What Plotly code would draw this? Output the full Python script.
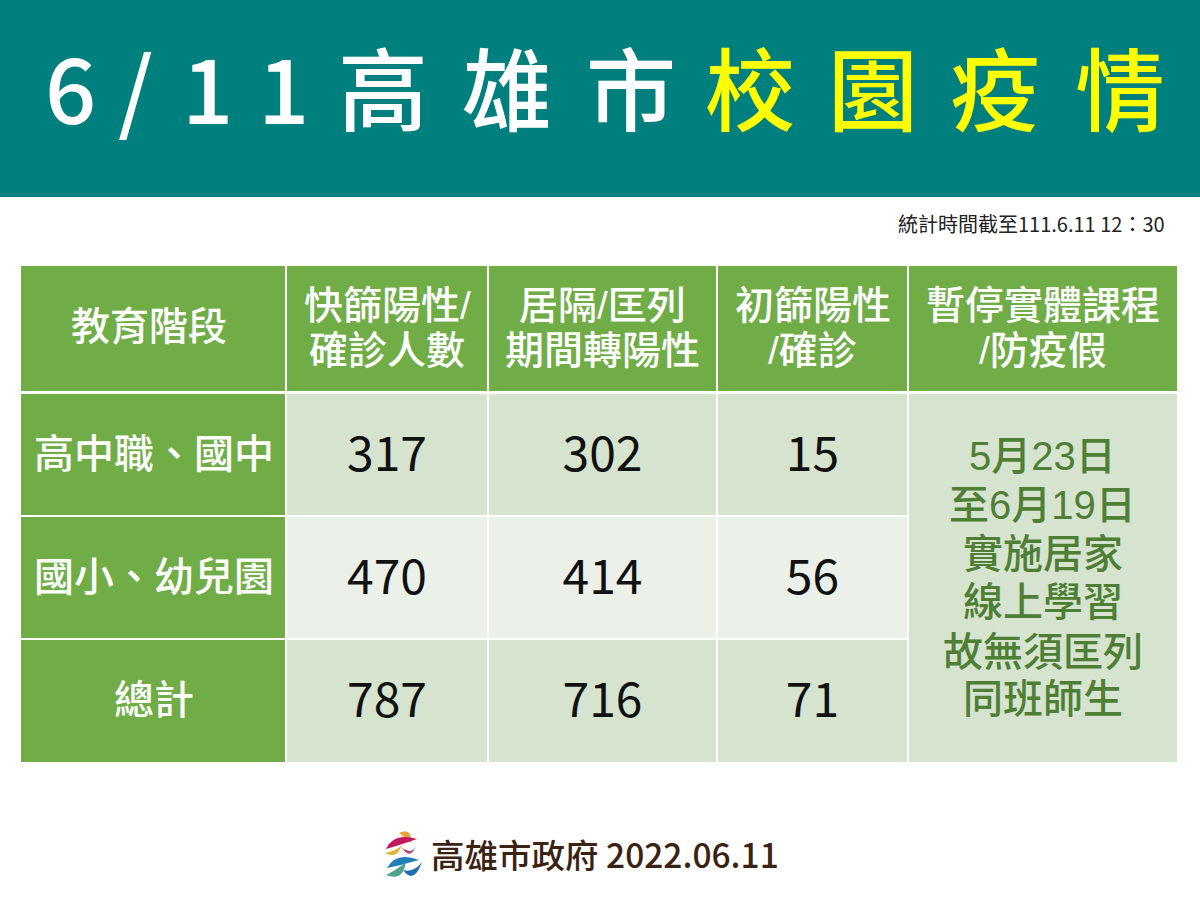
import plotly.graph_objects as go

# text and values
TITLE_WHITE = ["6", "/", "1", "1", "高", "雄", "市"]
TITLE_YELLOW = ["校", "園", "疫", "情"]
STAMP = "統計時間截至111.6.11 12：30"
HEADERS = [["教育階段"], ["快篩陽性/", "確診人數"], ["居隔/匡列", "期間轉陽性"], ["初篩陽性", "/確診"], ["暫停實體課程", "/防疫假"]]
ROWS = ["高中職、國中", "國小、幼兒園", "總計"]
SCREENED = [317, 470, 787]
ISOLATED = [302, 414, 716]
FIRST_POS = [15, 56, 71]
NOTE = ["5月23日", "至6月19日", "實施居家", "線上學習", "故無須匡列", "同班師生"]
FOOTER = "高雄市政府 2022.06.11"

# page layout, in px
TITLE_X = [70, 135, 207, 283, 383, 507, 631, 750, 873, 995, 1120]
COL_EDGES = [21, 286, 488, 717, 908, 1177]
ROW_EDGES = [394, 516, 639, 762]
HEAD_TOP, HEAD_BOT = 266, 391
HEAD_Y = [305, 350]
NOTE_Y = [456, 505, 554, 602, 652, 699]

TEAL = "#007F7F"
GREEN = "#70AD47"
LIGHT = "#D5E3CF"
PALE = "#EBF1E9"
NOTE_GREEN = "#4F7F35"
CJK = "Noto Sans CJK TC"
# tighter line box, for the stacked lines; CJK glyphs still come from Noto
TIGHT = "Liberation Sans, Noto Sans CJK TC"


def rect(x0, x1, y0, y1, color):
    return dict(type="rect", xref="x", yref="y", x0=x0, x1=x1, y0=y0, y1=y1,
                fillcolor=color, line=dict(width=0), layer="below")


def label(x, y, text, size, color, weight=400, anchor="center", family=CJK):
    return dict(x=x, y=y, xref="x", yref="y", text=text, showarrow=False, xanchor=anchor, yanchor="middle",
                align="center", font=dict(family=family, size=size, color=color, weight=weight))


def swoosh(a, c1, b, c2, color):
    path = f"M {a[0]} {a[1]} Q {c1[0]} {c1[1]} {b[0]} {b[1]} Q {c2[0]} {c2[1]} {a[0]} {a[1]} Z"
    return dict(type="path", xref="x", yref="y", path=path, fillcolor=color, line=dict(width=0))


shapes = [rect(0, 1200, 0, 197, TEAL)]
# header row
for i in range(5):
    shapes.append(rect(COL_EDGES[i] + (1 if i else 0), COL_EDGES[i + 1] - (1 if i < 4 else 0), HEAD_TOP, HEAD_BOT, GREEN))
# body
for r in range(3):
    y0 = ROW_EDGES[r] + (1 if r else 0)
    y1 = ROW_EDGES[r + 1] - (1 if r < 2 else 0)
    shapes.append(rect(COL_EDGES[0], COL_EDGES[1] - 1, y0, y1, GREEN))
    for c in range(1, 4):
        shapes.append(rect(COL_EDGES[c] + 1, COL_EDGES[c + 1] - 1, y0, y1, PALE if r == 1 else LIGHT))
shapes.append(rect(COL_EDGES[4] + 1, COL_EDGES[5], ROW_EDGES[0], ROW_EDGES[3], LIGHT))

# city logo
shapes += [
    swoosh((399, 833), (412, 827), (411, 843), (405, 837), "#E8A33D"),
    swoosh((386, 849), (394, 832), (417, 839), (400, 845), "#C2185B"),
    swoosh((385, 853), (397, 860), (402, 845), (396, 851), "#E3B23C"),
    swoosh((402, 848), (413, 855), (416, 845), (411, 861), "#B5476B"),
    swoosh((387, 868), (396, 851), (419, 860), (402, 865), "#1F7FB8"),
    swoosh((386, 875), (403, 882), (406, 862), (398, 869), "#4FA58C"),
    swoosh((403, 870), (414, 885), (422, 862), (414, 873), "#1F6FB0"),
]

annotations = []
for ch, x in zip(TITLE_WHITE + TITLE_YELLOW, TITLE_X):
    col = "#FFFFFF" if ch in TITLE_WHITE else "#FFFF00"
    annotations.append(label(x, 85, ch, 90, col, 500))
annotations.append(label(1167, 223, STAMP, 20, "#222222", anchor="right"))
for c, lines in enumerate(HEADERS):
    cx = (COL_EDGES[c] + COL_EDGES[c + 1]) / 2
    if len(lines) == 1:
        annotations.append(label(cx - 5, 323, lines[0], 39, "#FFFFFF", 500))
    else:
        for line, y in zip(lines, HEAD_Y):
            annotations.append(label(cx, y, line, 39, "#FFFFFF", 500, family=TIGHT))
for r, name in enumerate(ROWS):
    annotations.append(label((COL_EDGES[0] + COL_EDGES[1]) / 2, (ROW_EDGES[r] + ROW_EDGES[r + 1]) / 2 - 4, name, 40, "#FFFFFF", 500))
for line, y in zip(NOTE, NOTE_Y):
    annotations.append(label((COL_EDGES[4] + COL_EDGES[5]) / 2, y, line, 40, NOTE_GREEN, 500, family=TIGHT))
annotations.append(label(605, 853, FOOTER, 33.5, "#3B2314", 500))

fig = go.Figure()
# table numbers sit on the pixel axes
for c, values in enumerate([SCREENED, ISOLATED, FIRST_POS], start=1):
    fig.add_trace(go.Scatter(
        x=[(COL_EDGES[c] + COL_EDGES[c + 1]) / 2] * 3,
        y=[(ROW_EDGES[r] + ROW_EDGES[r + 1]) / 2 + 4 for r in range(3)],
        mode="text", text=[str(v) for v in values], textposition="middle center",
        textfont=dict(family=CJK, size=48, color="#111111"),
        hoverinfo="skip", showlegend=False))

fig.update_layout(width=1200, height=900, margin=dict(l=0, r=0, t=0, b=0), plot_bgcolor="white", paper_bgcolor="white",
                  shapes=shapes, annotations=annotations,
                  xaxis=dict(range=[0, 1200], visible=False, fixedrange=True),
                  yaxis=dict(range=[900, 0], visible=False, fixedrange=True))
# the default page has an 8px body margin
fig.write_html("out.html", config=dict(displayModeBar=False),
               post_script="document.body.style.margin='0';document.body.style.overflow='hidden';")
